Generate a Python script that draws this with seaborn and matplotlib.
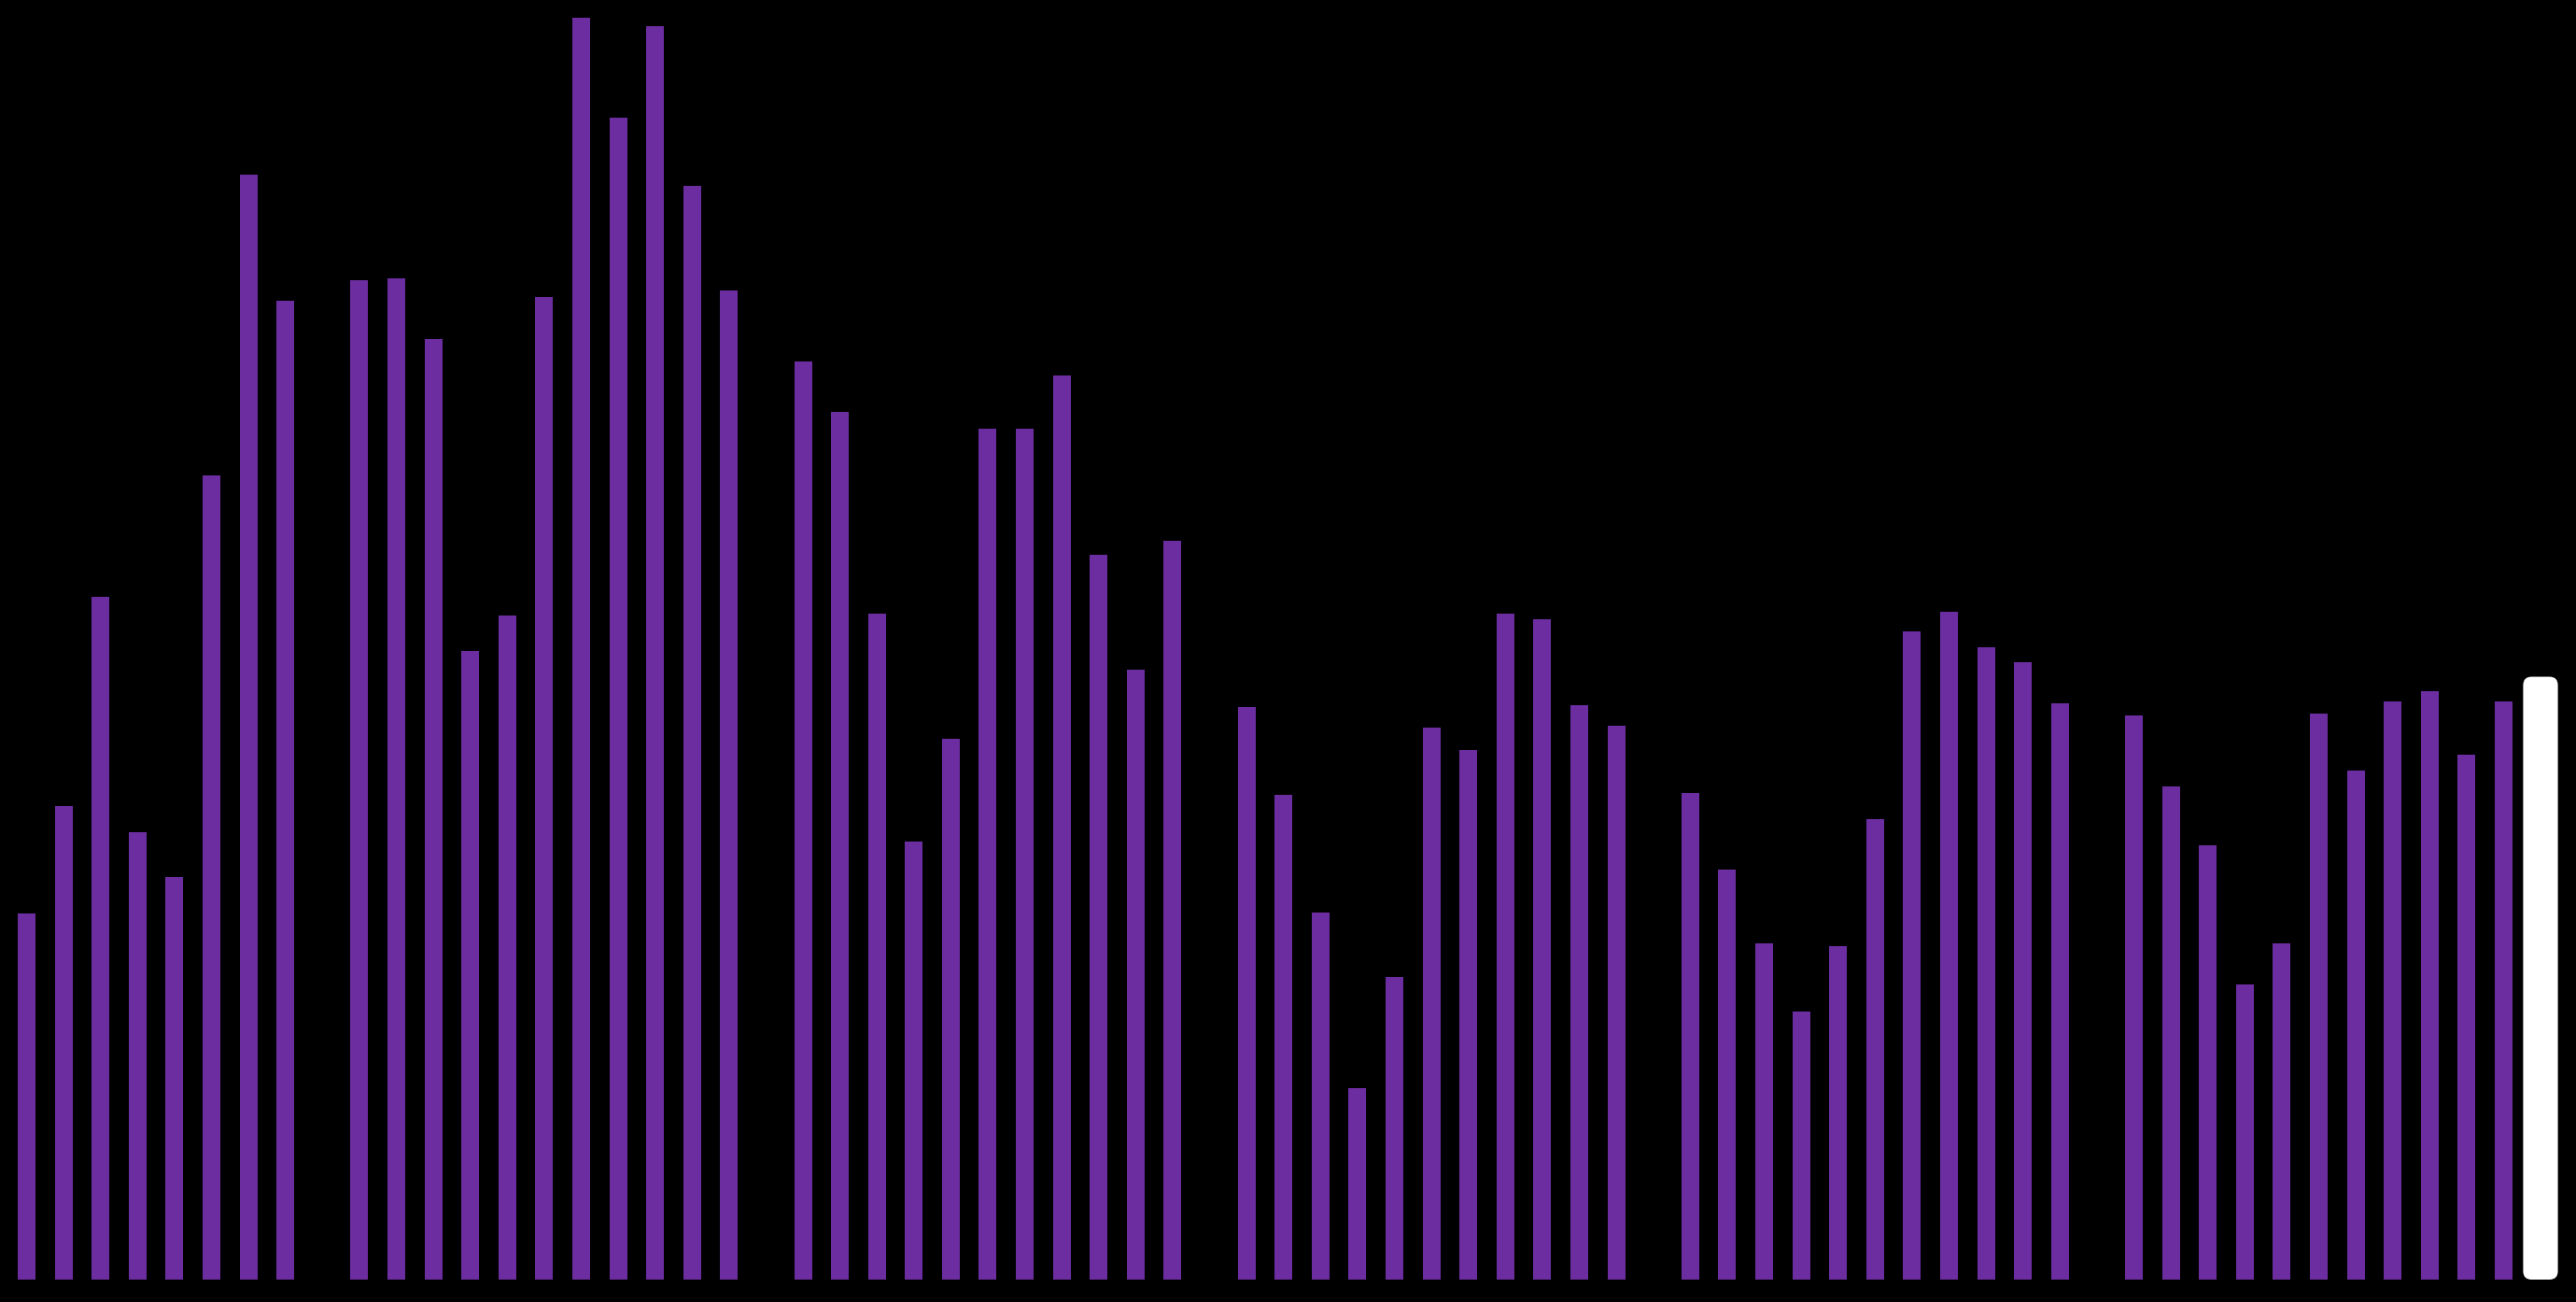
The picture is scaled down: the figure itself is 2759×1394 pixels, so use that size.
import numpy as np
import pandas as pd
import matplotlib
matplotlib.use("Agg")
import matplotlib.pyplot as plt
import seaborn as sns
from matplotlib.patches import FancyBboxPatch

# ---- data (arbitrary units; None = no bar) ----
period_1 = [441, 570, 822, 539, 485, 969, 1331, 1179]
period_2 = [1204, 1206, 1133, 757, 800, 1183, 1520, 1399, 1510, 1317, 1191]
period_3 = [1106, 1045, 802, 528, 651, 1025, 1025, 1089, 873, 734, 890]
period_4 = [690, 584, 442, 231, 364, 665, 638, 802, 795, 692, 667]
period_5 = [586, 494, 405, 323, 401, 555, 781, 804, 761, 744, 694]
period_6 = [679, 594, 523, 355, 405, 682, 613, 696, 709, 632, 696]
current_value = [726]

values = (period_1 + [None] + period_2 + [None] + period_3 + [None] +
          period_4 + [None] + period_5 + [None] + period_6 + current_value)
kinds = ["past"] * (len(values) - 1) + ["current"]
slots = [str(i) for i in range(len(values))]

df = pd.DataFrame({"slot": slots,
                   "value": pd.array(values, dtype="Float64").astype(float),
                   "kind": kinds})

PURPLE = "#6c2da0"
WHITE = "#ffffff"

W, H, DPI = 2759, 1394, 100
fig = plt.figure(figsize=(W / DPI, H / DPI), dpi=DPI, facecolor="black")
ax = fig.add_axes([0, 0, 1, 1])
ax.set_facecolor("black")

sns.barplot(data=df, x="slot", y="value", hue="kind", order=slots,
            palette={"past": PURPLE, "current": WHITE}, dodge=False,
            width=0.48, saturation=1, legend=False, errorbar=None,
            linewidth=0, ax=ax)

# widen and round the highlighted (current) bar
ylo, yhi = -27, 1541
xlo, xhi = -0.72, 68.96
ax.set_xlim(xlo, xhi)
ax.set_ylim(ylo, yhi)
px_per_x = W / (xhi - xlo)
px_per_y = H / (yhi - ylo)
for p in list(ax.patches):
    fc = p.get_facecolor()
    if fc[0] > 0.9 and fc[1] > 0.9 and fc[2] > 0.9:
        x0, w, h = p.get_x(), p.get_width(), p.get_height()
        cx = x0 + w / 2
        new_w = 0.94
        r = 9 / px_per_x
        aspect = (9 / px_per_y) / r
        patch = FancyBboxPatch((cx - new_w / 2, 0), new_w, h,
                               boxstyle=f"round,pad=0,rounding_size={r}",
                               mutation_aspect=aspect,
                               facecolor=WHITE, edgecolor="none")
        p.remove()
        ax.add_patch(patch)

ax.set_axis_off()
fig.savefig("out.png", dpi=DPI, facecolor="black")
